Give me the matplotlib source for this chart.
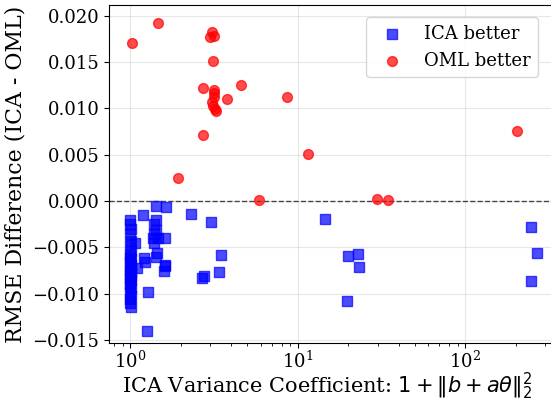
import matplotlib
matplotlib.use("Agg")
import matplotlib.pyplot as plt
import numpy as np

plt.rcParams['font.family'] = ['DejaVu Serif']
plt.rcParams['mathtext.fontset'] = 'dejavusans'

# OML better (red circles)
oml_x = [1.02, 1.47, 1.93, 2.71, 2.70, 3.09, 2.98, 3.15, 3.12, 3.15, 3.16, 3.16,
         3.07, 3.12, 3.19, 3.26, 3.80, 4.60, 8.62, 5.88, 11.5, 29.6, 34.4, 203.0]
oml_y = [0.01703, 0.01924, 0.00253, 0.00714, 0.01221, 0.01826, 0.01772, 0.01775,
         0.01507, 0.01203, 0.01166, 0.01127, 0.01065, 0.01022, 0.00996, 0.00975,
         0.01098, 0.01247, 0.01123, 0.0001, 0.00507, 0.0002, 0.00015, 0.00757]

# ICA better (blue squares)
ica_x = [1.00, 1.00, 1.01, 1.00, 1.01, 1.00, 1.01, 1.00, 1.00, 1.01, 1.00, 1.01,
         1.00, 1.01, 1.00, 1.01, 1.00, 1.01, 1.00, 1.01, 1.00, 1.00, 1.01, 1.00,
         1.01, 1.00, 1.00, 1.01,
         1.07, 1.10, 1.19, 1.20, 1.22, 1.27, 1.25,
         1.42, 1.64, 1.43, 1.39, 1.43, 1.39, 1.36, 1.46, 1.39, 1.62, 1.44, 1.43,
         1.62, 1.59, 1.62,
         2.30, 3.02, 3.48, 3.40, 2.74, 2.68,
         14.6, 19.8, 23.0, 23.2, 19.6, 246.0, 268.0, 245.0]
ica_y = [-0.0021, -0.0025, -0.0030, -0.0036, -0.0043, -0.0047, -0.0054, -0.0058,
         -0.0060, -0.0063, -0.0066, -0.0069, -0.0071, -0.0073, -0.0075, -0.0077,
         -0.0079, -0.0081, -0.0083, -0.0085, -0.0088, -0.0091, -0.0094, -0.0098,
         -0.0102, -0.0106, -0.0110, -0.0114,
         -0.0045, -0.0072, -0.00152, -0.0062, -0.0066, -0.0098, -0.01406,
         -0.00054, -0.00062, -0.0020, -0.0025, -0.0031, -0.0036, -0.0040, -0.0040,
         -0.0045, -0.0040, -0.0056, -0.0060,
         -0.0069, -0.0075, -0.00696,
         -0.00145, -0.00228, -0.00587, -0.00768, -0.00808, -0.00826,
         -0.00192, -0.0059, -0.00573, -0.00707, -0.0108, -0.00279, -0.00558, -0.00862]

fig = plt.figure(figsize=(5.51, 4.01), dpi=100)
ax = fig.add_axes([0.198, 0.1446, 0.815, 0.843])

ax.scatter(ica_x, ica_y, marker='s', s=50, color='blue', alpha=0.7, label='ICA better', zorder=3)
ax.scatter(oml_x, oml_y, marker='o', s=50, color='red', alpha=0.7, label='OML better', zorder=3)
ax.axhline(0, color='black', linestyle='--', linewidth=1, alpha=0.7, zorder=2)

ax.set_xscale('log')
ax.set_xlim(0.747, 358)
ax.set_ylim(-0.01532, 0.02115)
ax.set_yticks([-0.015, -0.010, -0.005, 0.0, 0.005, 0.010, 0.015, 0.020])
ax.grid(True, alpha=0.3)
ax.tick_params(labelsize=13)
ax.tick_params(axis='x', pad=2)

ax.set_xlabel(r'ICA Variance Coefficient: $1 + \|b + a\theta\|_2^2$', fontsize=15, labelpad=-1)
ax.xaxis.label.set_x(0.486)
ax.set_ylabel('RMSE Difference (ICA - OML)', fontsize=15.8)
ax.legend(fontsize=13, loc='upper right', bbox_to_anchor=(0.975, 0.99))

fig.savefig('out.png', dpi=100)
